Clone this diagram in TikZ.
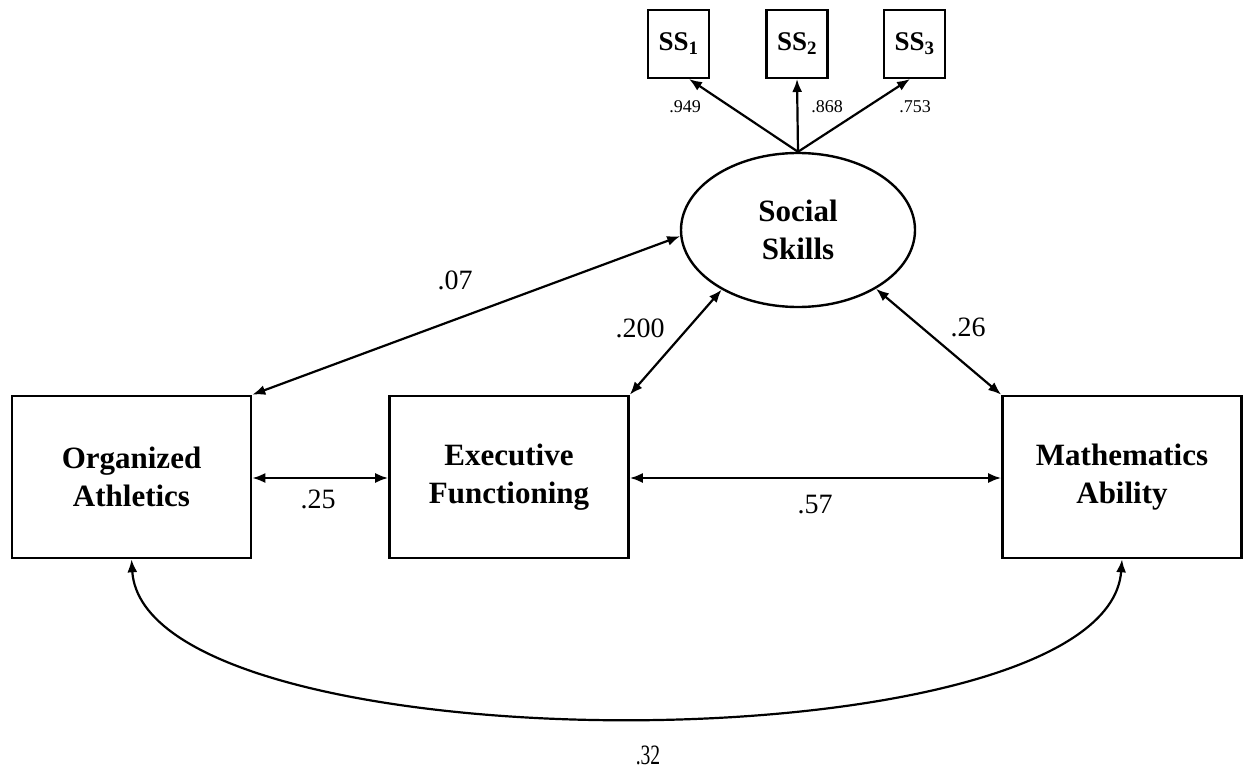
\documentclass[tikz,border=0pt]{standalone}
\usepackage{fontspec}
\setmainfont{Liberation Serif}
\usetikzlibrary{shapes.geometric,arrows.meta}
\begin{document}
\begin{tikzpicture}[x=1pt,y=-1pt,
  box/.style={draw,line width=2.6pt,minimum width=239pt,minimum height=162pt,align=center,font=\fontsize{31}{38}\selectfont\bfseries,inner sep=0pt},
  ind/.style={draw,line width=2.4pt,minimum width=61pt,minimum height=68pt,font=\fontsize{27}{30}\selectfont\bfseries,inner sep=0pt},
  lat/.style={draw,ellipse,line width=2.4pt,minimum width=234pt,minimum height=154pt,align=center,font=\fontsize{31}{38}\selectfont\bfseries,inner sep=0pt},
  arr/.style={line width=2.2pt,-{Latex[length=13pt,width=10pt]}},
  darr/.style={line width=2.2pt,{Latex[length=13pt,width=10pt]}-{Latex[length=13pt,width=10pt]}},
  lab/.style={font=\fontsize{28}{30}\selectfont},
  slab/.style={font=\fontsize{18}{20}\selectfont}]
\useasboundingbox[fill=white] (0,0) rectangle (1246,770);
\node[ind] (s1) at (678.5,44) {SS$_{\mathbf 1}$};
\node[ind] (s2) at (797,44) {SS$_{\mathbf 2}$};
\node[ind] (s3) at (914.5,44) {SS$_{\mathbf 3}$};
\node[lat] (ss) at (798,230) {Social\\Skills};
\node[box] (oa) at (131.5,477) {Organized\\Athletics};
\node[box] (ef) at (509,477) {Executive\\Functioning};
\node[box] (ma) at (1122,477) {Mathematics\\Ability};
\coordinate (t1) at (689,79);
\coordinate (t2) at (797,79);
\coordinate (t3) at (910,79);
\draw[arr] (ss.north) -- (t1);
\draw[arr] (ss.north) -- (t2);
\draw[arr] (ss.north) -- (t3);
\node[slab] (l1) at (685,107) {.949};
\node[slab] (l2) at (827,107) {.868};
\node[slab] (l3) at (915,107) {.753};
\draw[darr] (ss.183) -- (oa.north east);
\draw[darr] (ss.218) -- (ef.north east);
\draw[darr] (ss.323) -- (ma.north west);
\draw[darr] (oa.east |- 0,478) -- (ef.west |- 0,478);
\draw[darr] (ef.east |- 0,478) -- (ma.west |- 0,478);
\draw[darr] (oa.south) .. controls (145,770) and (1107,770) .. (ma.south);
\node[lab] (n07) at (455,280) {.07};
\node[lab] (n200) at (640,328) {.200};
\node[lab] (n26) at (968,327) {.26};
\node[lab] (n25) at (318,499) {.25};
\node[lab] (n57) at (815,505) {.57};
\node[lab,xscale=0.7] (n32) at (648,755) {.32};
\end{tikzpicture}
\end{document}
